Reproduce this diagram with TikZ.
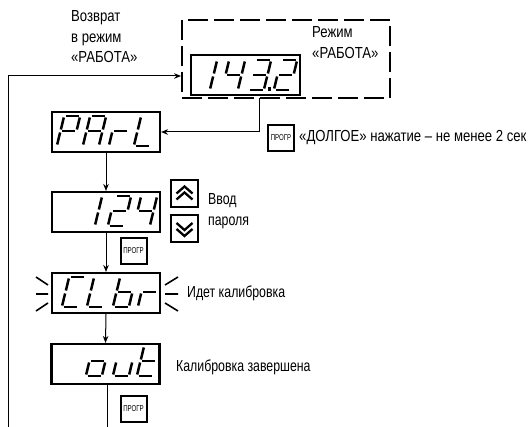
\documentclass[tikz,border=0pt]{standalone}
\usepackage{fontspec}
\usetikzlibrary{arrows.meta,calc}
\setmainfont{Liberation Sans}
\newfontfamily\condfont[FakeStretch=0.77]{Liberation Sans}
\newfontfamily\modefont[FakeStretch=0.82]{Liberation Sans}
\newfontfamily\btnfont[FakeStretch=0.72]{Liberation Sans}
\def\sgma{(8.5,-30)--(21.5,-30)}
\def\sgmf{(6.8,-28.5)--(3.9,-16.5)}
\def\sgmb{(22.8,-28.5)--(19.9,-16.5)}
\def\sgmg{(5,-15)--(18,-15)}
\def\sgme{(3.1,-13.5)--(0.2,-1.5)}
\def\sgmc{(19.1,-13.5)--(16.2,-1.5)}
\def\sgmd{(1.5,0)--(14.5,0)}
\newcommand{\sevenseg}[3]{\begin{scope}[shift={(#1,#2)}]
  \foreach \s in {#3}{\draw[segline] \csname sgm\s\endcsname;}
\end{scope}}
\tikzset{
  x=1pt,y=-1pt,
  segline/.style={line width=2.5pt,line cap=butt},
  display/.style={draw,line width=2.1pt,minimum width=108pt,minimum height=40pt,inner sep=0pt},
  button/.style={draw,line width=2pt,minimum width=26pt,minimum height=26pt,inner sep=0pt,
    font=\btnfont\fontsize{8.5}{9}\selectfont},
  arrowbtn/.style={draw,line width=2pt,minimum width=27pt,minimum height=27pt,inner sep=0pt},
  chevron/.style={line width=2.3pt},
  ray/.style={line width=1.6pt},
  link/.style={line width=1pt},
  arrowlink/.style={link,-{Stealth[length=7pt,width=5.5pt]}},
  label/.style={anchor=west,inner sep=0pt,align=left,font=\condfont\fontsize{16}{20.5}\selectfont},
  modelabel/.style={label,font=\modefont\fontsize{16}{20.5}\selectfont},
  framebox/.style={draw,line width=1.8pt,dash pattern=on 20pt off 6pt,inner sep=0pt},
}
\begin{document}
\begin{tikzpicture}
\useasboundingbox (0,0) rectangle (529,427);
\fill[white] (0,0) rectangle (529,427);
% frame and displays
\node[framebox,minimum width=208pt,minimum height=78pt] (run) at (286,59) {};
\node[display,minimum width=109pt] (d1) at (245.5,75) {};
\node[display] (d2) at (106,132) {};
\node[display] (d3) at (106,212) {};
\node[display] (d4) at (106,293) {};
\node[display] (d5) at (105.5,364) {};
% digits
\sevenseg{194}{90}{b,c}
\sevenseg{222}{90}{f,g,b,c}
\sevenseg{248}{90}{a,b,g,c,d}
\fill (268,87.5) rectangle (271,91);
\sevenseg{274}{90}{a,b,g,e,d}
\sevenseg{57}{146}{a,b,f,g,e}
\sevenseg{83}{146}{a,b,c,e,f,g}
\sevenseg{109}{146}{e,g}
\sevenseg{134}{146}{f,e,d}
\sevenseg{79}{226}{b,c}
\sevenseg{108}{226}{a,b,g,e,d}
\sevenseg{134}{226}{f,g,b,c}
\sevenseg{62}{307}{a,f,e,d}
\sevenseg{87}{307}{f,e,d}
\sevenseg{113}{307}{f,e,d,c,g}
\sevenseg{138}{307}{e,g}
\sevenseg{86}{376}{g,c,d,e}
\sevenseg{113}{376}{e,d,c}
\sevenseg{137}{376}{f,g,e,d}
% rays
\draw[ray] (36,277)--(48,285) (36,294)--(48,294) (36,311)--(48,303);
\draw[ray] (178,277)--(165,285) (178,294)--(165,294) (178,311)--(165,303);
% buttons
\node[button] (b1) at (281,138) {ПРОГР};
\node[button] (b2) at (133.5,251) {ПРОГР};
\node[button] (b3) at (133.5,408.5) {ПРОГР};
\node[arrowbtn] (up) at (184.5,193.5) {};
\node[arrowbtn] (down) at (184.5,229) {};
\draw[chevron] ($(up)+(-8,0)$)--($(up)+(0,-7)$)--($(up)+(8,0)$);
\draw[chevron] ($(up)+(-8,6)$)--($(up)+(0,-1)$)--($(up)+(8,6)$);
\draw[chevron] ($(down)+(-8,-6)$)--($(down)+(0,1)$)--($(down)+(8,-6)$);
\draw[chevron] ($(down)+(-8,0)$)--($(down)+(0,7)$)--($(down)+(8,0)$);
% connectors
\coordinate (ret) at (8,427);
\coordinate (end) at (107.5,427);
\draw[arrowlink] (ret) |- (run.west |- 0,76);
\draw[arrowlink] (259,98) |- (d2.east);
\draw[arrowlink] (d2.south) -- (d3.north);
\draw[arrowlink] (d3.south) -- (d4.north);
\draw[arrowlink] (d4.south) -- (d5.north);
\draw[link] (d5.south -| end) -- (end);
% texts
\node[modelabel] (t1) at (71,37) {Возврат\\в режим\\«РАБОТА»};
\node[modelabel] (t2) at (312,42.5) {Режим\\«РАБОТА»};
\node[modelabel] (t3) at (299,138) {«ДОЛГОЕ» нажатие – не менее 2 сек};
\node[label] (t4) at (208,211) {Ввод\\пароля};
\node[label] (t5) at (187,293) {Идет калибровка};
\node[label] (t6) at (176,367) {Калибровка завершена};
\end{tikzpicture}
\end{document}
